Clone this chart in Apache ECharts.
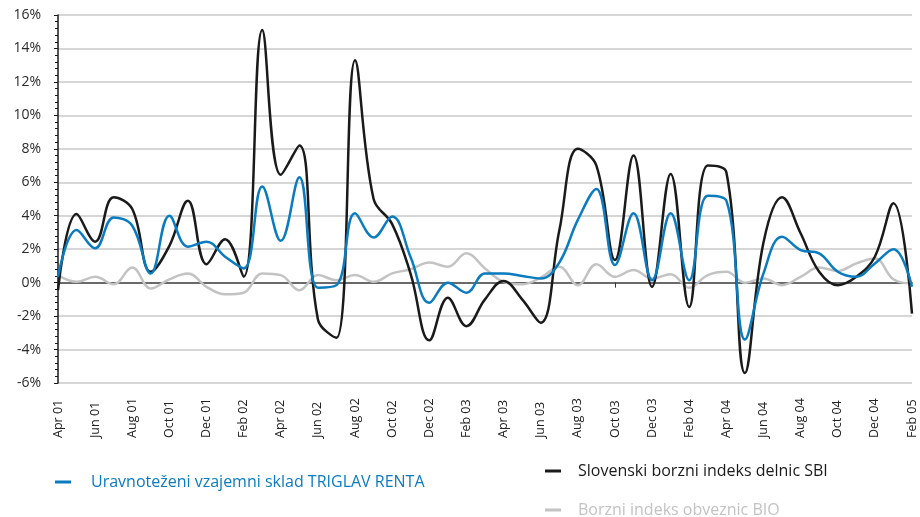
<!DOCTYPE html>
<html>
<head>
<meta charset="utf-8">
<script src="https://cdn.jsdelivr.net/npm/echarts@6/dist/echarts.min.js"></script>
<style>
    html, body { margin: 0; padding: 0; background: #fff; }
    #chart { width: 920px; height: 517px; }
</style>
</head>
<body>
<div id="chart"></div>
<script>
// months Apr 01 .. Feb 05
const months = [
    "Apr 01", "May 01", "Jun 01", "Jul 01", "Aug 01", "Sep 01", "Oct 01", "Nov 01", "Dec 01", "Jan 02", "Feb 02", "Mar 02",
    "Apr 02", "May 02", "Jun 02", "Jul 02", "Aug 02", "Sep 02", "Oct 02", "Nov 02", "Dec 02", "Jan 03", "Feb 03", "Mar 03",
    "Apr 03", "May 03", "Jun 03", "Jul 03", "Aug 03", "Sep 03", "Oct 03", "Nov 03", "Dec 03", "Jan 04", "Feb 04", "Mar 04",
    "Apr 04", "May 04", "Jun 04", "Jul 04", "Aug 04", "Sep 04", "Oct 04", "Nov 04", "Dec 04", "Jan 05", "Feb 05"
];

const rentaName = "Uravnoteženi vzajemni sklad TRIGLAV RENTA";
const sbiName = "Slovenski borzni indeks delnic SBI";
const bioName = "Borzni indeks obveznic BIO";

// monthly returns in %
const renta = [
    0.35, 3.15, 2.05, 3.9, 3.4, 0.55, 4.0, 2.15, 2.45, 1.55, 0.85, 5.75,
    2.5, 6.3, -0.3, -0.15, 4.15, 2.7, 3.95, 1.5, -1.2, 0.0, -0.6, 0.55,
    0.55, 0.4, 0.25, 1.2, 3.75, 5.6, 1.05, 4.15, 0.15, 4.15, 0.15, 5.2,
    4.9, -3.4, 0.55, 2.75, 1.95, 1.75, 0.65, 0.35, 1.15, 2.0, -0.25
];
const sbi = [
    -0.45, 4.1, 2.45, 5.1, 4.4, 0.65, 2.2, 4.9, 1.1, 2.6, 0.35, 15.1,
    6.45, 8.2, -2.2, -3.3, 13.3, 5.0, 3.5, 0.5, -3.45, -0.9, -2.6, -1.0,
    0.1, -1.0, -2.4, 3.1, 8.0, 7.0, 1.35, 7.6, -0.25, 6.5, -1.45, 7.0,
    6.6, -5.4, 2.4, 5.1, 2.95, 0.65, -0.15, 0.35, 1.55, 4.75, -1.85
];
const bio = [
    0.45, 0.05, 0.35, -0.1, 0.9, -0.35, 0.2, 0.55, -0.25, -0.7, -0.6, 0.55,
    0.45, -0.45, 0.45, 0.15, 0.45, 0.05, 0.55, 0.8, 1.2, 0.95, 1.75, 0.85,
    0.05, -0.1, 0.3, 0.95, -0.15, 1.1, 0.35, 0.75, 0.25, 0.5, -0.3, 0.45,
    0.65, 0.0, 0.25, -0.15, 0.35, 0.9, 0.7, 1.15, 1.45, 0.2, -0.05
];

const BLUE = "#0a7bbf";
const BLACK = "#1a1a1a";
const GREY = "#c3c3c3";
const FONT = "Open Sans";

const chart = echarts.init(document.getElementById("chart"), null, { renderer: "canvas" });

const legendBase = {
    orient: "horizontal",
    icon: "rect",
    itemWidth: 16,
    itemHeight: 3,
    selectedMode: false
};

chart.setOption({
    animation: false,
    backgroundColor: "#ffffff",
    textStyle: { fontFamily: FONT },
    grid: { left: 58, right: 8, top: 15, bottom: 134, containLabel: false },
    legend: [
        {
            ...legendBase,
            data: [rentaName],
            left: 50,
            top: 469,
            textStyle: { color: BLUE, fontSize: 16, fontFamily: FONT, padding: [0, 0, 0, 15] }
        },
        {
            ...legendBase,
            data: [sbiName],
            left: 540,
            top: 458,
            textStyle: { color: BLACK, fontSize: 16, fontFamily: FONT, padding: [0, 0, 0, 12] }
        },
        {
            ...legendBase,
            data: [bioName],
            left: 540,
            top: 497,
            textStyle: { color: GREY, fontSize: 16, fontFamily: FONT, padding: [0, 0, 0, 12] }
        }
    ],
    xAxis: {
        type: "category",
        data: months,
        boundaryGap: false,
        axisLine: { lineStyle: { color: "#6a6a6a", width: 2 } },
        axisTick: {
            show: true,
            length: 5,
            interval: (idx) => idx === 30,
            lineStyle: { color: "#333", width: 1 }
        },
        axisLabel: {
            interval: 1,
            rotate: 90,
            align: "left",
            margin: 55,
            fontSize: 12.5,
            color: "#222",
            fontFamily: FONT
        },
        splitLine: { show: false }
    },
    yAxis: {
        type: "value",
        min: -6,
        max: 16,
        interval: 2,
        axisLine: { show: true, lineStyle: { color: BLACK, width: 1.5 } },
        axisTick: { show: true, length: 4, lineStyle: { color: BLACK } },
        minorTick: { show: true, splitNumber: 5, length: 3, lineStyle: { color: BLACK } },
        splitLine: { lineStyle: { color: "#c8c8c8", width: 1.5 } },
        axisLabel: {
            formatter: "{value}%",
            fontSize: 14,
            color: "#2a2a2a",
            margin: 17,
            fontFamily: FONT
        }
    },
    series: [
        {
            name: bioName,
            type: "line",
            data: bio,
            smooth: 0.4,
            showSymbol: false,
            lineStyle: { color: GREY, width: 2.5 },
            itemStyle: { color: GREY },
            z: 2
        },
        {
            name: sbiName,
            type: "line",
            data: sbi,
            smooth: 0.4,
            showSymbol: false,
            lineStyle: { color: BLACK, width: 2.5 },
            itemStyle: { color: BLACK },
            z: 3
        },
        {
            name: rentaName,
            type: "line",
            data: renta,
            smooth: 0.4,
            showSymbol: false,
            lineStyle: { color: BLUE, width: 2.5 },
            itemStyle: { color: BLUE },
            z: 4
        }
    ]
});
</script>
</body>
</html>
